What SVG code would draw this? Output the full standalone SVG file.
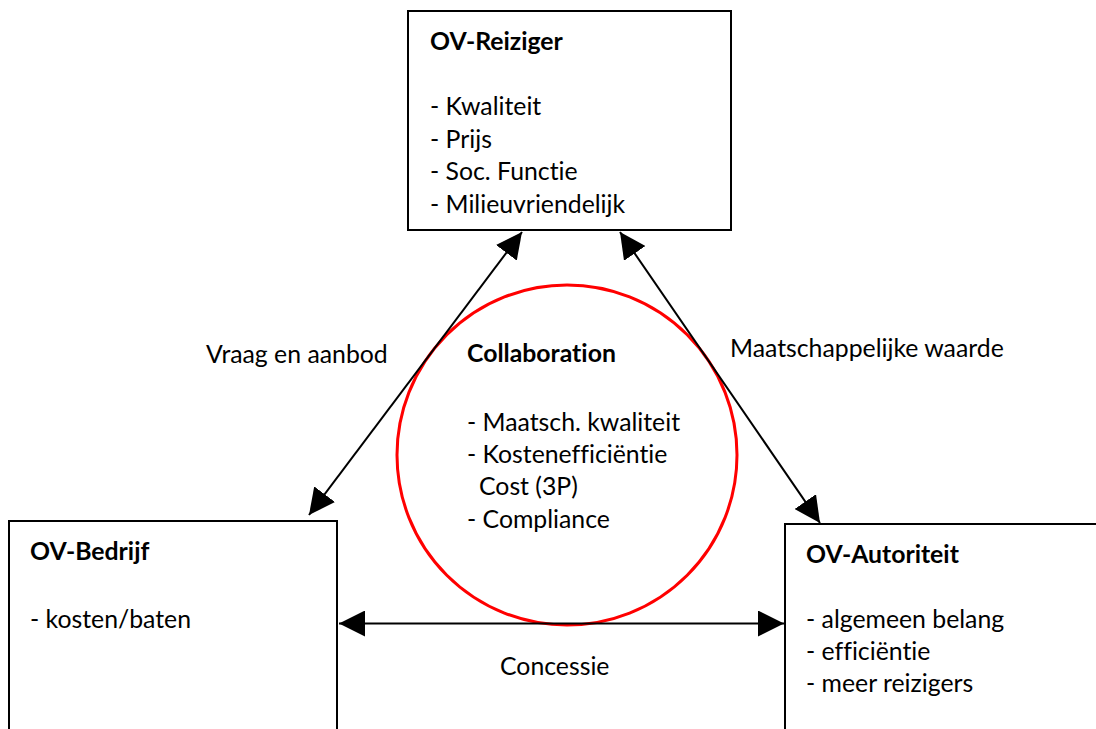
<svg xmlns="http://www.w3.org/2000/svg" width="1096" height="729" viewBox="0 0 1096 729">
<style>
text{font-family:Lato,"Liberation Sans",sans-serif;font-size:24.8px;fill:#000;font-variant-ligatures:none;font-feature-settings:"liga" 0,"clig" 0}
.b{font-weight:bold}
.box{fill:#fff;stroke:#000;stroke-width:2}
.con{stroke:#000;stroke-width:2;fill:none}
</style>
<defs>
<marker id="ah" viewBox="0 0 26 26" refX="26" refY="13" markerWidth="26" markerHeight="26" markerUnits="userSpaceOnUse" orient="auto-start-reverse">
<path d="M0,0 L26,13 L0,26 z" fill="#000"/>
</marker>
</defs>
<rect width="1096" height="729" fill="#fff"/>
<g id="reiziger">
<rect class="box" x="408" y="11" width="323" height="219"/>
<text class="b" x="430" y="50">OV-Reiziger</text>
<text x="430" y="115">- Kwaliteit</text>
<text x="430" y="147.5">- Prijs</text>
<text x="430" y="180">- Soc. Functie</text>
<text x="430" y="212.5">- Milieuvriendelijk</text>
</g>
<g id="bedrijf">
<rect class="box" x="9" y="521" width="328" height="220"/>
<text class="b" x="30" y="560">OV-Bedrijf</text>
<text x="30" y="628">- kosten/baten</text>
</g>
<g id="autoriteit">
<rect class="box" x="785" y="524" width="320" height="220"/>
<text class="b" x="806" y="563">OV-Autoriteit</text>
<text x="806" y="628">- algemeen belang</text>
<text x="806" y="660">- efficiëntie</text>
<text x="806" y="692">- meer reizigers</text>
</g>
<g id="collaboration">
<circle cx="567" cy="455" r="170" fill="none" stroke="#ff0000" stroke-width="3"/>
<text class="b" x="467" y="362">Collaboration</text>
<text x="467" y="431">- Maatsch. kwaliteit</text>
<text x="467" y="463">- Kostenefficiëntie</text>
<text x="479" y="495">Cost (3P)</text>
<text x="467" y="528">- Compliance</text>
</g>
<g id="connectors">
<line class="con" x1="522" y1="232" x2="309" y2="515" marker-start="url(#ah)" marker-end="url(#ah)"/>
<line class="con" x1="620" y1="232" x2="820" y2="523" marker-start="url(#ah)" marker-end="url(#ah)"/>
<line class="con" x1="339" y1="623.5" x2="784" y2="623.5" marker-start="url(#ah)" marker-end="url(#ah)"/>
<text x="206" y="363">Vraag en aanbod</text>
<text x="730" y="357">Maatschappelijke waarde</text>
<text x="500" y="675">Concessie</text>
</g>
</svg>
